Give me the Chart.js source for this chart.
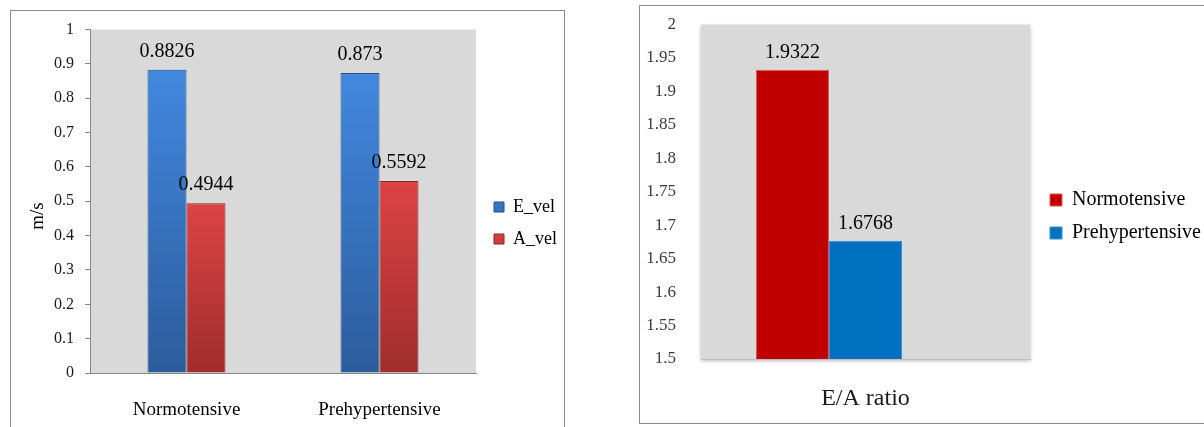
<!DOCTYPE html>
<html>
<head>
<meta charset="utf-8">
<script src="https://cdn.jsdelivr.net/npm/chart.js@4.4.1/dist/chart.umd.min.js"></script>
<style>
  html, body { margin: 0; padding: 0; background: #fff; overflow: hidden; width: 1204px; height: 427px; }
  .panel { position: absolute; border: 1px solid #8a8a8a; background: #fff; }
  #velPanel { left: 10px; top: 10px; width: 553px; height: 430px; }
  #ratioPanel { left: 639px; top: 5px; width: 570px; height: 417px; }
  canvas { display: block; }
</style>
</head>
<body>
<div class="panel" id="velPanel"><canvas id="velChart" width="553" height="420"></canvas></div>
<div class="panel" id="ratioPanel"><canvas id="ratioChart" width="564" height="417"></canvas></div>

<script>
// ---- transmitral flow velocities (m/s) ----
const groups = ['Normotensive', 'Prehypertensive'];
const eVel = [0.8826, 0.873];
const aVel = [0.4944, 0.5592];
const velocityTicks = [0, 0.1, 0.2, 0.3, 0.4, 0.5, 0.6, 0.7, 0.8, 0.9, 1];
const velocityUnit = 'm/s';

// ---- E/A ratio ----
const ratioCategory = ['E/A ratio'];
const ratioNormotensive = [1.9322];
const ratioPrehypertensive = [1.6768];
const ratioSpare = [null];          // empty third slot of the group
const ratioTicks = [1.5, 1.55, 1.6, 1.65, 1.7, 1.75, 1.8, 1.85, 1.9, 1.95, 2];

const SERIF = "'Liberation Serif', 'Times New Roman', serif";

// grey plot area (optionally with a soft drop shadow)
const plotBackground = {
  id: 'plotBackground',
  beforeDraw(chart, args, opts) {
    const a = chart.chartArea;
    if (!a) return;
    const ctx = chart.ctx;
    ctx.save();
    if (opts.shadow) {
      ctx.shadowColor = 'rgba(0,0,0,0.28)';
      ctx.shadowBlur = 4;
      ctx.shadowOffsetX = 0;
      ctx.shadowOffsetY = 2;
    }
    ctx.fillStyle = opts.color || '#d9d9d9';
    ctx.fillRect(a.left, a.top, a.right - a.left, a.bottom - a.top);
    ctx.restore();
  }
};

// value written above each bar, taken from the bar's own data value
const valueLabels = {
  id: 'valueLabels',
  afterDatasetsDraw(chart, args, opts) {
    const ctx = chart.ctx;
    ctx.save();
    ctx.font = opts.font;
    ctx.fillStyle = opts.color || '#000';
    ctx.textAlign = 'center';
    ctx.textBaseline = 'middle';
    chart.data.datasets.forEach((ds, i) => {
      const meta = chart.getDatasetMeta(i);
      meta.data.forEach((bar, j) => {
        const v = ds.data[j];
        if (v === null || v === undefined) return;
        ctx.fillText(String(v), bar.x, bar.y - opts.offset);
      });
    });
    ctx.restore();
  }
};

// rotated unit label beside the value axis
const sideTitle = {
  id: 'sideTitle',
  afterDraw(chart, args, opts) {
    if (!opts.text) return;
    const ctx = chart.ctx;
    ctx.save();
    ctx.translate(opts.x, opts.y);
    ctx.rotate(-Math.PI / 2);
    ctx.font = opts.font;
    ctx.fillStyle = opts.color || '#000';
    ctx.textAlign = 'center';
    ctx.textBaseline = 'middle';
    ctx.fillText(opts.text, 0, 0);
    ctx.restore();
  }
};

// fixed legend column: reserved width and item start position
const legendPlacement = {
  id: 'legendPlacement',
  beforeLayout(chart, args, opts) {
    const lg = chart.legend;
    if (!lg || lg._fixedWidth) return;
    const fit = lg.fit;
    lg.fit = function () { fit.call(this); this.width = opts.width; };
    lg._fixedWidth = true;
  },
  afterLayout(chart, args, opts) {
    const lg = chart.legend;
    if (!lg) return;
    const h = lg.height;
    lg.left = opts.left;
    lg.right = opts.left + opts.width;
    lg.top = opts.top;
    lg.bottom = opts.top + h;
  }
};

// value axis keeps a fixed width and claims no extra room above/below the plot
function fixedValueAxis(width) {
  return (s) => {
    s.width = width;
    s.paddingTop = 0;
    s.paddingBottom = 0;
  };
}

function verticalGradient(light, dark) {
  return (c) => {
    const chart = c.chart;
    const a = chart.chartArea;
    if (!a || c.raw === null || c.raw === undefined) return dark;
    const y0 = chart.scales.y.getPixelForValue(c.raw);
    const g = chart.ctx.createLinearGradient(0, y0, 0, a.bottom);
    g.addColorStop(0, light);
    g.addColorStop(1, dark);
    return g;
  };
}

// ---------- velocity chart ----------
new Chart(document.getElementById('velChart'), {
  type: 'bar',
  data: {
    labels: groups,
    datasets: [
      {
        label: 'E_vel',
        data: eVel,
        backgroundColor: verticalGradient('#4188df', '#2c5c9c'),
        borderColor: '#25508a',
        borderWidth: 1,
        barPercentage: 1,
        categoryPercentage: 0.404
      },
      {
        label: 'A_vel',
        data: aVel,
        backgroundColor: verticalGradient('#dd4343', '#a02d2d'),
        borderColor: '#8a2626',
        borderWidth: 1,
        barPercentage: 1,
        categoryPercentage: 0.404
      }
    ]
  },
  options: {
    responsive: false,
    animation: false,
    layout: { padding: { top: 18.5, left: 0, right: 0, bottom: 0 } },
    scales: {
      x: {
        grid: { display: false },
        border: { display: true, color: '#868686' },
        ticks: { color: '#000', font: { family: SERIF, size: 19 }, padding: 18 },
        afterFit(s) { s.height = 58; }
      },
      y: {
        min: 0,
        max: 1,
        afterBuildTicks(s) { s.ticks = velocityTicks.map(v => ({ value: v })); },
        grid: { drawOnChartArea: false, drawTicks: true, tickLength: 5, color: '#868686' },
        border: { display: true, color: '#868686' },
        ticks: { color: '#1a1a1a', font: { family: SERIF, size: 16 }, padding: 11, callback: v => String(v) },
        afterFit: fixedValueAxis(79)
      }
    },
    plugins: {
      tooltip: { enabled: false },
      legend: {
        position: 'right',
        align: 'start',
        labels: { boxWidth: 10, boxHeight: 10, padding: 14, color: '#000', font: { family: SERIF, size: 18 } }
      },
      legendPlacement: { width: 88, left: 469, top: 173 },
      plotBackground: { color: '#d9d9d9' },
      valueLabels: { font: '20px ' + SERIF, offset: 18 },
      sideTitle: { text: velocityUnit, x: 27, y: 205, font: '19px ' + SERIF }
    }
  },
  plugins: [legendPlacement, plotBackground, valueLabels, sideTitle]
});

// ---------- E/A ratio chart ----------
new Chart(document.getElementById('ratioChart'), {
  type: 'bar',
  data: {
    labels: ratioCategory,
    datasets: [
      {
        label: 'Normotensive',
        data: ratioNormotensive,
        backgroundColor: '#c00000',
        borderColor: '#d25a5a',
        borderWidth: 1,
        barPercentage: 1,
        categoryPercentage: 0.666
      },
      {
        label: 'Prehypertensive',
        data: ratioPrehypertensive,
        backgroundColor: '#0070c0',
        borderColor: '#3a8fd0',
        borderWidth: 1,
        barPercentage: 1,
        categoryPercentage: 0.666
      },
      {
        label: '',
        data: ratioSpare,
        backgroundColor: 'rgba(0,0,0,0)',
        barPercentage: 1,
        categoryPercentage: 0.666
      }
    ]
  },
  options: {
    responsive: false,
    animation: false,
    layout: { padding: { top: 18.5, left: 0, right: 0, bottom: 0 } },
    scales: {
      x: {
        grid: { display: false },
        border: { display: true, color: '#bdbdbd' },
        ticks: { color: '#1a1a1a', font: { family: SERIF, size: 24 }, padding: 17 },
        afterFit(s) { s.height = 64; }
      },
      y: {
        min: 1.5,
        max: 2,
        afterBuildTicks(s) { s.ticks = ratioTicks.map(v => ({ value: v })); },
        grid: { display: false },
        border: { display: false },
        ticks: { color: '#3a3a3a', font: { family: SERIF, size: 17 }, padding: 17, callback: v => String(v) },
        afterFit: fixedValueAxis(61)
      }
    },
    plugins: {
      tooltip: { enabled: false },
      legend: {
        position: 'right',
        align: 'start',
        labels: {
          boxWidth: 12, boxHeight: 12, padding: 13, color: '#000',
          font: { family: SERIF, size: 20 },
          filter: item => !!item.text
        }
      },
      legendPlacement: { width: 174, left: 397, top: 171 },
      plotBackground: { color: '#d9d9d9', shadow: true },
      valueLabels: { font: '20px ' + SERIF, offset: 17 }
    }
  },
  plugins: [legendPlacement, plotBackground, valueLabels]
});
</script>
</body>
</html>
